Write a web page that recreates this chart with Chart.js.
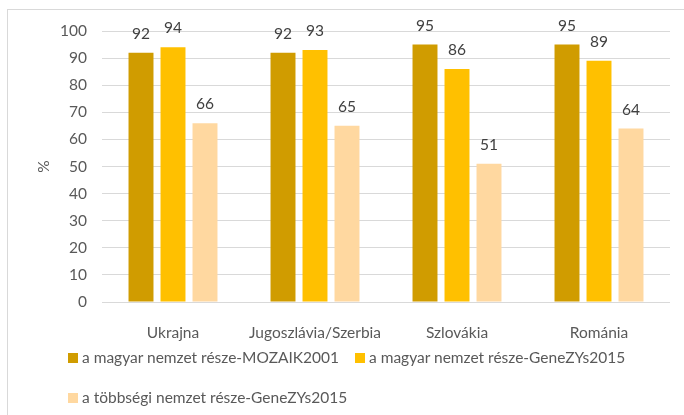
<!DOCTYPE html>
<html>
<head>
<meta charset="utf-8">
<script src="https://cdn.jsdelivr.net/npm/chart.js@4.4.0/dist/chart.umd.min.js"></script>
<style>
  body { margin: 0; background: #fff; }
  #wrap { position: relative; width: 684px; height: 415px; font-family: Lato, "Open Sans", sans-serif; }
  #frame { position: absolute; left: 7px; top: 9px; width: 700px; height: 420px; border-left: 1px solid #d9d9d9; border-top: 1px solid #d9d9d9; }
  #legend { position: absolute; left: 68px; top: 348px; width: 610px; font-size: 15.5px; color: #595959; }
  .item { position: absolute; white-space: nowrap; line-height: 19px; }
  .item span { display: inline-block; width: 10px; height: 10px; margin-right: 4px; }
</style>
</head>
<body>
<div id="wrap">
  <div id="frame"></div>
  <canvas id="grafico" width="684" height="415"></canvas>
  <div id="legend"></div>
</div>
<script>
const orszagok = ["Ukrajna", "Jugoszlávia/Szerbia", "Szlovákia", "Románia"];
const mozaik2001 = [92, 92, 95, 95];
const genezys2015 = [94, 93, 86, 89];
const tobbsegi2015 = [66, 65, 51, 64];
const sorozatNevek = [
  "a magyar nemzet része-MOZAIK2001",
  "a magyar nemzet része-GeneZYs2015",
  "a többségi nemzet része-GeneZYs2015"
];
const yTicks = [0, 10, 20, 30, 40, 50, 60, 70, 80, 90, 100];

const szinek = ["#d09c00", "#ffc000", "#ffd8a0"];
const betu = "Lato, 'Open Sans', sans-serif";
const meret = 15.5;

// Feliratok az oszlopok fölött
const feliratok = {
  id: "feliratok",
  afterDatasetsDraw(chart) {
    const ctx = chart.ctx;
    ctx.save();
    ctx.font = meret + "px " + betu;
    ctx.fillStyle = "#404040";
    ctx.textAlign = "center";
    ctx.textBaseline = "middle";
    chart.data.datasets.forEach((ds, i) => {
      chart.getDatasetMeta(i).data.forEach((bar, j) => {
        ctx.fillText(ds.data[j], bar.x, bar.y - 19);
      });
    });
    ctx.restore();
  }
};

new Chart(document.getElementById("grafico"), {
  type: "bar",
  data: {
    labels: orszagok,
    datasets: [
      { label: sorozatNevek[0], data: mozaik2001, backgroundColor: szinek[0] },
      { label: sorozatNevek[1], data: genezys2015, backgroundColor: szinek[1] },
      { label: sorozatNevek[2], data: tobbsegi2015, backgroundColor: szinek[2] }
    ]
  },
  options: {
    responsive: false,
    animation: false,
    layout: { padding: { left: 35, right: 14, top: 31, bottom: 0 } },
    datasets: { bar: { categoryPercentage: 0.676, barPercentage: 0.78 } },
    plugins: { legend: { display: false }, tooltip: { enabled: false } },
    scales: {
      x: {
        grid: { display: false },
        border: { display: false },
        ticks: { color: "#595959", font: { size: meret, family: betu }, padding: 14, maxRotation: 0 },
        afterFit: s => { s.height = 113; }
      },
      y: {
        min: 0,
        max: 100,
        afterBuildTicks: s => { s.ticks = yTicks.map(v => ({ value: v })); },
        grid: { color: "#d9d9d9", drawTicks: false },
        border: { display: false },
        ticks: { color: "#595959", font: { size: meret, family: betu }, padding: 15 },
        title: { display: true, text: "%", color: "#595959", font: { size: meret, family: betu }, padding: 0 },
        afterFit: s => { s.width = 67; }
      }
    }
  },
  plugins: [feliratok]
});

// Jelmagyarázat
const legend = document.getElementById("legend");
const helyek = [[0, 0], [287, 0], [0, 40]];
sorozatNevek.forEach((nev, i) => {
  const d = document.createElement("div");
  d.className = "item";
  d.style.left = helyek[i][0] + "px";
  d.style.top = helyek[i][1] + "px";
  d.innerHTML = `<span style="background:${szinek[i]}"></span>${nev}`;
  legend.appendChild(d);
});
</script>
</body>
</html>
